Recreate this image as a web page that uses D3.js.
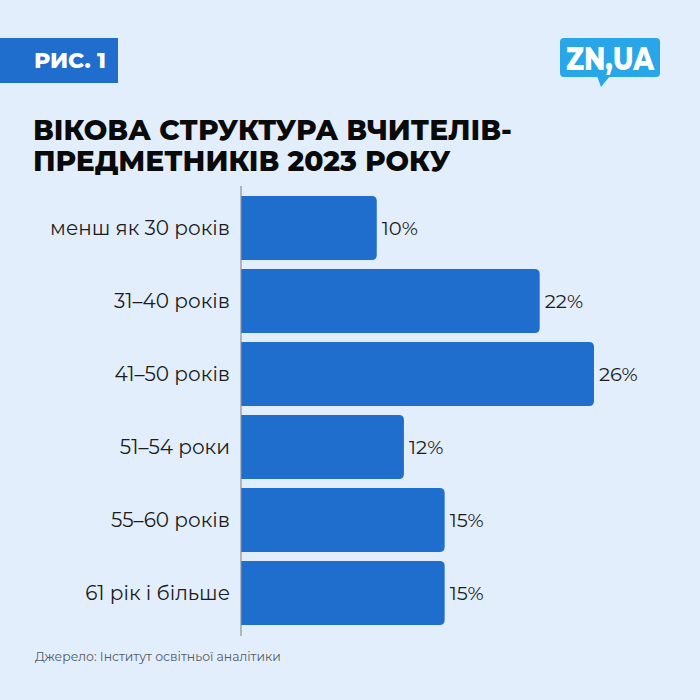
<!DOCTYPE html>
<html><head><meta charset="utf-8">
<script src="https://cdn.jsdelivr.net/npm/d3@7"></script>
<style>body{margin:0;background:#e3eefc;} svg{display:block;}</style>
</head><body>
<script>
const categories = ["менш як 30 років","31–40 років","41–50 років","51–54 роки","55–60 років","61 рік і більше"];
const values = [10,22,26,12,15,15];
const valueLabels = ["10%","22%","26%","12%","15%","15%"];
const titleLines = ["ВІКОВА СТРУКТУРА ВЧИТЕЛІВ-","ПРЕДМЕТНИКІВ 2023 РОКУ"];
const badgeText = "РИС. 1";
const logoText = "ZN,UA";
const sourceText = "Джерело: Інститут освітньої аналітики";

const W=700,H=700;
const font = "Montserrat, 'Noto Sans', 'Open Sans', sans-serif";
const svg=d3.select("body").append("svg").attr("width",W).attr("height",H);
svg.append("rect").attr("width",W).attr("height",H).attr("fill","#e3eefc");

// badge
svg.append("rect").attr("x",0).attr("y",38).attr("width",118).attr("height",45).attr("fill","#1f6ecd");
svg.append("text").attr("x",106).attr("y",68).attr("text-anchor","end").attr("fill","#fff")
  .attr("font-family",font).attr("font-weight",800).attr("font-size",21).attr("textLength",72).attr("lengthAdjust","spacingAndGlyphs").text(badgeText);

// logo
const lg=svg.append("g");
lg.append("rect").attr("x",560).attr("y",38).attr("width",100).attr("height",39).attr("rx",4).attr("fill","#29a6e7");
lg.append("path").attr("d","M597,76 L601,87 L610,76 Z").attr("fill","#29a6e7");
lg.append("text").attr("x",610).attr("y",70).attr("text-anchor","middle").attr("fill","#fff")
  .attr("font-family",font).attr("font-weight",800).attr("font-size",32).attr("textLength",88).attr("lengthAdjust","spacingAndGlyphs").text(logoText);

// title
svg.append("g").selectAll("text").data(titleLines).join("text")
  .attr("x",33).attr("y",(d,i)=>140+i*31).attr("fill","#0a0a0a")
  .attr("font-family",font).attr("font-weight",800).attr("font-size",28).text(d=>d);

// scales
const x0=241;
const x=d3.scaleLinear().domain([0,26]).range([x0,594]);
const y=d3.scaleBand().domain(categories).range([191.5,629.5]).paddingInner(9/73).paddingOuter(9/146);

const r=5;
svg.append("g").selectAll("path").data(categories).join("path")
  .attr("fill","#1f6ecd")
  .attr("d",(c,i)=>{
    const xe=x(values[i]), yt=y(c), h=y.bandwidth();
    return `M${x0},${yt} H${xe-r} Q${xe},${yt} ${xe},${yt+r} V${yt+h-r} Q${xe},${yt+h} ${xe-r},${yt+h} H${x0} Z`;
  });

// axis line
svg.append("line").attr("x1",x0).attr("x2",x0).attr("y1",186).attr("y2",636).attr("stroke","#8a8f96").attr("stroke-width",1.2);

// category labels
svg.append("g").selectAll("text").data(categories).join("text")
  .attr("x",230).attr("y",c=>y(c)+y.bandwidth()/2).attr("dy","0.35em").attr("text-anchor","end")
  .attr("fill","#1c1c1c").attr("font-family",font).attr("font-size",20).text(d=>d);

// value labels
svg.append("g").selectAll("text").data(categories).join("text")
  .attr("x",(c,i)=>x(values[i])+5).attr("y",c=>y(c)+y.bandwidth()/2).attr("dy","0.35em")
  .attr("fill","#1c1c1c").attr("font-family",font).attr("font-size",19.5).text((c,i)=>valueLabels[i]);

// source
svg.append("text").attr("x",35).attr("y",661).attr("fill","#555b63")
  .attr("font-family",font).attr("font-size",12.4).text(sourceText);
</script>
</body></html>
